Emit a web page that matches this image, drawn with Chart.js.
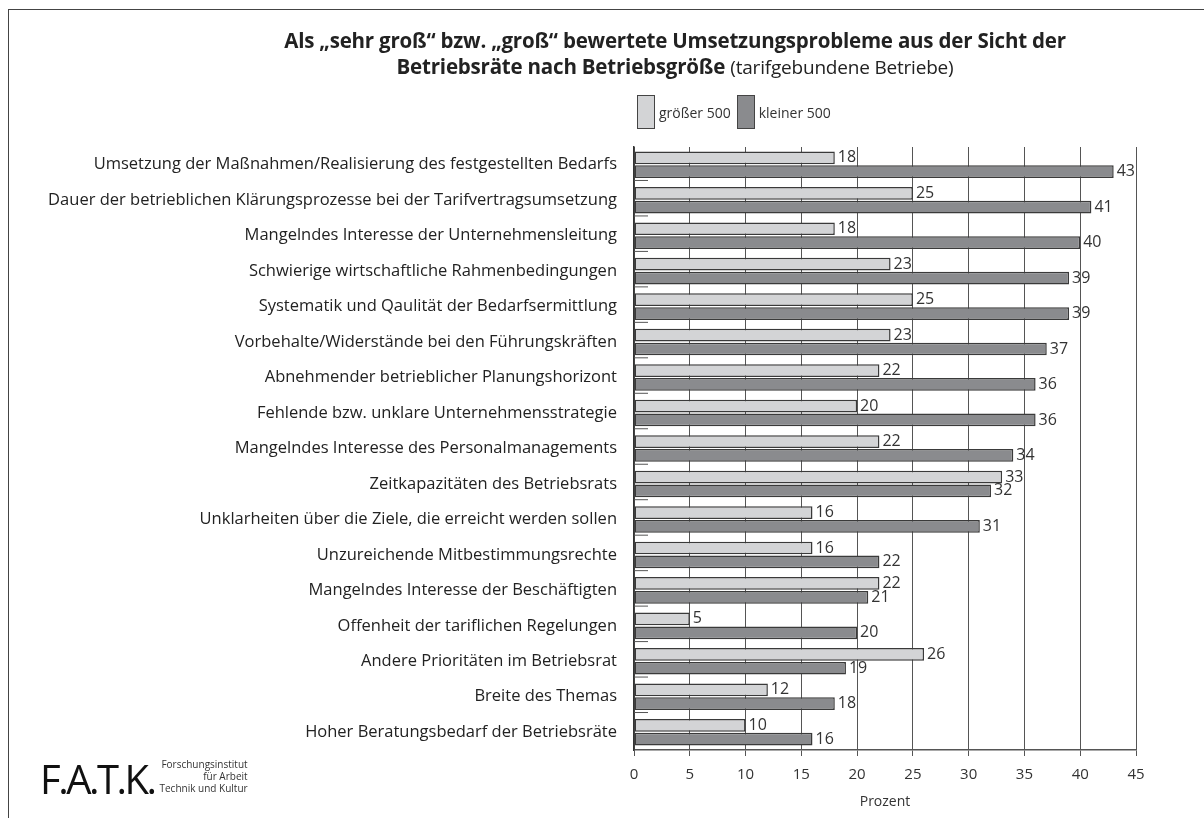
<!DOCTYPE html>
<html lang="de">
<head>
<meta charset="UTF-8">
<title>Umsetzungsprobleme nach Betriebsgröße</title>
<script src="https://cdn.jsdelivr.net/npm/chart.js"></script>
<style>
    body { margin: 0; background: #fff; font-family: "Open Sans", sans-serif; color: #222; }
    #frame { position: absolute; left: 8px; top: 9px; width: 1196px; height: 809px;
             border-top: 1.5px solid #444; border-left: 1.5px solid #444; }
    #titel { position: absolute; left: 220px; width: 910px; top: 27px; text-align: center;
             font-size: 20.5px; line-height: 26px; color: #222; letter-spacing: -0.2px; }
    #titel b { font-weight: 700; }
    #titel span { font-size: 19px; }
    #legende { position: absolute; left: 637px; top: 95px; display: flex; font-size: 14px; color: #333; }
    .eintrag { display: flex; align-items: center; margin-right: 6px; }
    .box { width: 16px; height: 32px; border: 1.5px solid #444; margin-right: 4px; }
    #wrap { position: absolute; left: 0; top: 0; width: 1204px; height: 818px; }
    #logo { position: absolute; left: 40px; top: 758px; display: flex; align-items: flex-end; }
    #logo .gross { font-size: 40px; letter-spacing: -2.5px; line-height: 40px; color: #111; }
    #logo .klein { font-size: 10px; line-height: 12px; text-align: right; margin-left: 5px; margin-bottom: 5px; color: #333; }
</style>
</head>
<body>
<div id="frame"></div>
<div id="wrap"><canvas id="chart"></canvas></div>
<div id="titel">
    <b>Als „sehr groß“ bzw. „groß“ bewertete Umsetzungsprobleme aus der Sicht der</b><br>
    <b>Betriebsräte nach Betriebsgröße</b> <span>(tarifgebundene Betriebe)</span>
</div>
<div id="legende"></div>
<div id="logo">
    <div class="gross">F.A.T.K.</div>
    <div class="klein">Forschungsinstitut<br>für Arbeit<br>Technik und Kultur</div>
</div>

<script>
    // Daten aus der Grafik
    const kategorien = [
        "Umsetzung der Maßnahmen/Realisierung des festgestellten Bedarfs",
        "Dauer der betrieblichen Klärungsprozesse bei der Tarifvertragsumsetzung",
        "Mangelndes Interesse der Unternehmensleitung",
        "Schwierige wirtschaftliche Rahmenbedingungen",
        "Systematik und Qaulität der Bedarfsermittlung",
        "Vorbehalte/Widerstände bei den Führungskräften",
        "Abnehmender betrieblicher Planungshorizont",
        "Fehlende bzw. unklare Unternehmensstrategie",
        "Mangelndes Interesse des Personalmanagements",
        "Zeitkapazitäten des Betriebsrats",
        "Unklarheiten über die Ziele, die erreicht werden sollen",
        "Unzureichende Mitbestimmungsrechte",
        "Mangelndes Interesse der Beschäftigten",
        "Offenheit der tariflichen Regelungen",
        "Andere Prioritäten im Betriebsrat",
        "Breite des Themas",
        "Hoher Beratungsbedarf der Betriebsräte"
    ];
    const groesser500 = [18, 25, 18, 23, 25, 23, 22, 20, 22, 33, 16, 16, 22, 5, 26, 12, 10];
    const kleiner500 = [43, 41, 40, 39, 39, 37, 36, 36, 34, 32, 31, 22, 21, 20, 19, 18, 16];
    const xTicks = [0, 5, 10, 15, 20, 25, 30, 35, 40, 45];

    const schrift = "'Open Sans', sans-serif";

    // Werte rechts neben die Balken schreiben + kleine Trennstriche an der y-Achse
    const wertePlugin = {
        id: "werte",
        afterDatasetsDraw(chart) {
            const ctx = chart.ctx;
            ctx.save();
            ctx.font = "16px " + schrift;
            ctx.fillStyle = "#333";
            ctx.textBaseline = "middle";
            chart.data.datasets.forEach((ds, i) => {
                chart.getDatasetMeta(i).data.forEach((bar, j) => {
                    ctx.fillText(ds.data[j], bar.x + 3, bar.y);
                });
            });
            const y = chart.scales.y;
            const links = chart.chartArea.left;
            ctx.strokeStyle = "#555";
            ctx.lineWidth = 1;
            for (let i = 1; i < kategorien.length; i++) {
                const py = (y.getPixelForTick(i - 1) + y.getPixelForTick(i)) / 2 - 2;
                ctx.beginPath();
                ctx.moveTo(links, py);
                ctx.lineTo(links + 14, py);
                ctx.stroke();
            }
            ctx.restore();
        }
    };

    const chart = new Chart(document.getElementById("chart"), {
        type: "bar",
        data: {
            labels: kategorien,
            datasets: [{
                label: "größer 500",
                data: groesser500,
                backgroundColor: "#d3d4d6",
                borderColor: "#3a3a3a",
                borderWidth: 1.5,
                borderSkipped: false,
                categoryPercentage: 0.78,
                barPercentage: 0.92
            }, {
                label: "kleiner 500",
                data: kleiner500,
                backgroundColor: "#8a8b8e",
                borderColor: "#3a3a3a",
                borderWidth: 1.5,
                borderSkipped: false,
                categoryPercentage: 0.78,
                barPercentage: 0.92
            }]
        },
        options: {
            indexAxis: "y",
            responsive: true,
            maintainAspectRatio: false,
            animation: false,
            layout: { padding: { top: 147, right: 68, bottom: 0, left: 0 } },
            plugins: {
                legend: { display: false },
                title: { display: false },
                tooltip: { enabled: false }
            },
            scales: {
                x: {
                    min: 0,
                    max: 45,
                    afterBuildTicks: (s) => { s.ticks = xTicks.map(v => ({ value: v })); },
                    afterFit: (s) => { s.height = 68; },
                    grid: { color: "#555", lineWidth: 1, tickLength: 6, drawTicks: true },
                    border: { color: "#555", width: 1.5 },
                    ticks: { color: "#333", font: { family: schrift, size: 15 }, padding: 10, maxRotation: 0 },
                    title: { display: true, text: "Prozent", color: "#333",
                             font: { family: schrift, size: 14 }, padding: { top: 0, bottom: 8 } }
                },
                y: {
                    afterFit: (s) => { s.width = 634; },
                    grid: { drawOnChartArea: false, drawTicks: false },
                    border: { color: "#333", width: 1.5 },
                    ticks: { color: "#222", font: { family: schrift, size: 16.5 }, padding: 17, autoSkip: false }
                }
            }
        },
        plugins: [wertePlugin]
    });

    // Legende als HTML aus den Datensätzen
    const legende = document.getElementById("legende");
    chart.data.datasets.forEach(ds => {
        legende.innerHTML += `<div class="eintrag"><div class="box" style="background:${ds.backgroundColor}"></div>${ds.label}</div>`;
    });
</script>
</body>
</html>
